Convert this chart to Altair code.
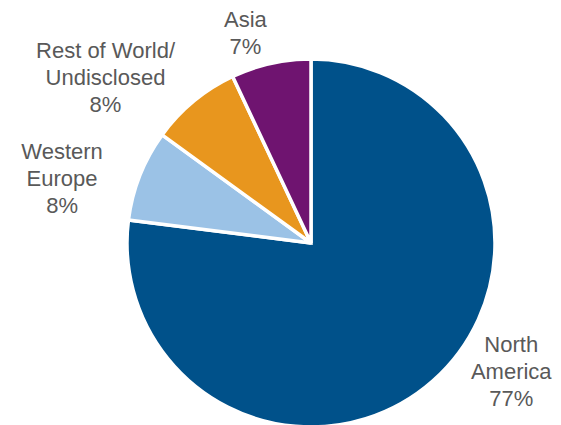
import json
import altair as alt
import pandas as pd

regions = ["North\nAmerica", "Western\nEurope", "Rest of World/\nUndisclosed", "Asia"]
shares = [77, 8, 8, 7]
colors = ["#00518A", "#9BC2E6", "#E8961E", "#6F1470"]
order = [0, 1, 2, 3]

df = pd.DataFrame({"region": regions, "share": shares, "idx": order})
df["label"] = [f"{r}\n{s}%" for r, s in zip(regions, shares)]

base = alt.Chart(df).encode(
    theta=alt.Theta("share:Q", stack=True),
    order=alt.Order("idx:Q"),
)

pie = base.mark_arc(outerRadius=184, stroke="white", strokeWidth=3.5).encode(
    color=alt.Color("region:N", scale=alt.Scale(domain=regions, range=colors), legend=None)
)

# label placement offsets (style only)
offsets = {
    regions[0]: (68, -48),
    regions[1]: (-63, -17),
    regions[2]: (-78, -38),
    regions[3]: (-22, -28),
}

layers = [pie]
for name, (dx, dy) in offsets.items():
    layers.append(
        base.transform_calculate(
            t=f"datum.region === {json.dumps(name)} ? datum.label : ''"
        ).mark_text(
            radius=200, dx=dx, dy=dy, font="Liberation Sans", fontSize=22,
            color="#595959", lineBreak="\n", lineHeight=27, align="center",
            baseline="middle",
        ).encode(text="t:N")
    )

chart = alt.layer(*layers).properties(
    width=460, height=366,
    autosize=alt.AutoSizeParams(type="none"),
    padding={"left": 73, "right": 12, "top": 52, "bottom": 0},
    background="white",
).configure_view(stroke=None)

chart.save("out.html", embed_options={"renderer": "svg", "actions": False})
